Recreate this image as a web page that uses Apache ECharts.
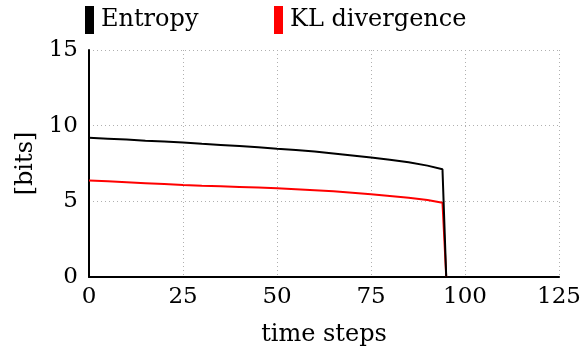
<!DOCTYPE html>
<html>
<head>
<meta charset="utf-8">
<script src="https://cdn.jsdelivr.net/npm/echarts@6/dist/echarts.min.js"></script>
<style>
  html, body { margin: 0; padding: 0; background: #fff; }
  #chart { width: 584px; height: 354px; }
</style>
</head>
<body>
<div id="chart"></div>
<script>
// time step at which each sample was taken
const timeSteps = [0, 5, 10, 15, 20, 25, 30, 35, 40, 45, 50, 55, 60, 65, 70, 75, 80, 85, 90, 94, 95];
// entropy of the distribution [bits]
const entropy = [9.2, 9.14, 9.08, 9.01, 8.95, 8.88, 8.80, 8.73, 8.65, 8.57, 8.47, 8.39, 8.29, 8.16, 8.03, 7.89, 7.75, 7.58, 7.36, 7.12, 0];
// KL divergence [bits]
const klDivergence = [6.37, 6.32, 6.26, 6.2, 6.14, 6.08, 6.03, 5.99, 5.95, 5.91, 5.86, 5.8, 5.73, 5.66, 5.57, 5.47, 5.36, 5.24, 5.09, 4.91, 0];
const xTicks = [0, 25, 50, 75, 100, 125];
const yTicks = [0, 5, 10, 15];

const font = '"DejaVu Serif", "Liberation Serif", serif';
const pairs = (ys) => timeSteps.map((t, i) => [t, ys[i]]);

const gridLine = { show: true, lineStyle: { color: '#b0b0b0', width: 1, type: [1, 3] } };

// one legend block per series so each entry sits at its own spot
const legendBlock = (name, left) => ({
  left: left,
  top: 1,
  icon: 'rect',
  itemWidth: 9,
  itemHeight: 28,
  itemGap: 0,
  textStyle: { fontFamily: font, fontSize: 24, color: '#000', padding: [0, 0, 0, 2] },
  data: [name]
});

const chart = echarts.init(document.getElementById('chart'), null, { renderer: 'canvas' });
chart.setOption({
  animation: false,
  backgroundColor: '#ffffff',
  textStyle: { fontFamily: font, color: '#000' },
  legend: [legendBlock('Entropy', 80), legendBlock('KL divergence', 269)],
  grid: { left: 89, right: 21, top: 50, bottom: 77, containLabel: false },
  xAxis: {
    type: 'value',
    min: xTicks[0],
    max: xTicks[xTicks.length - 1],
    interval: 25,
    name: 'time steps',
    nameLocation: 'middle',
    nameGap: 46,
    nameTextStyle: { fontFamily: font, fontSize: 24, color: '#000' },
    axisLine: { show: true, onZero: false, lineStyle: { color: '#000', width: 2 } },
    axisTick: { show: false },
    axisLabel: { fontFamily: font, fontSize: 23, color: '#000', margin: 9 },
    splitLine: gridLine
  },
  yAxis: {
    type: 'value',
    min: yTicks[0],
    max: yTicks[yTicks.length - 1],
    interval: 5,
    name: '[bits]',
    nameLocation: 'middle',
    nameGap: 48,
    nameRotate: 90,
    nameTextStyle: { fontFamily: font, fontSize: 24, color: '#000' },
    axisLine: { show: true, lineStyle: { color: '#000', width: 2 } },
    axisTick: { show: false },
    axisLabel: { fontFamily: font, fontSize: 23, color: '#000', margin: 11 },
    splitLine: gridLine
  },
  series: [
    {
      name: 'KL divergence',
      type: 'line',
      data: pairs(klDivergence),
      showSymbol: false,
      itemStyle: { color: '#ff0000' },
      lineStyle: { color: '#ff0000', width: 2 },
      z: 2
    },
    {
      name: 'Entropy',
      type: 'line',
      data: pairs(entropy),
      showSymbol: false,
      itemStyle: { color: '#000000' },
      lineStyle: { color: '#000000', width: 2 },
      z: 3
    }
  ]
});
</script>
</body>
</html>
